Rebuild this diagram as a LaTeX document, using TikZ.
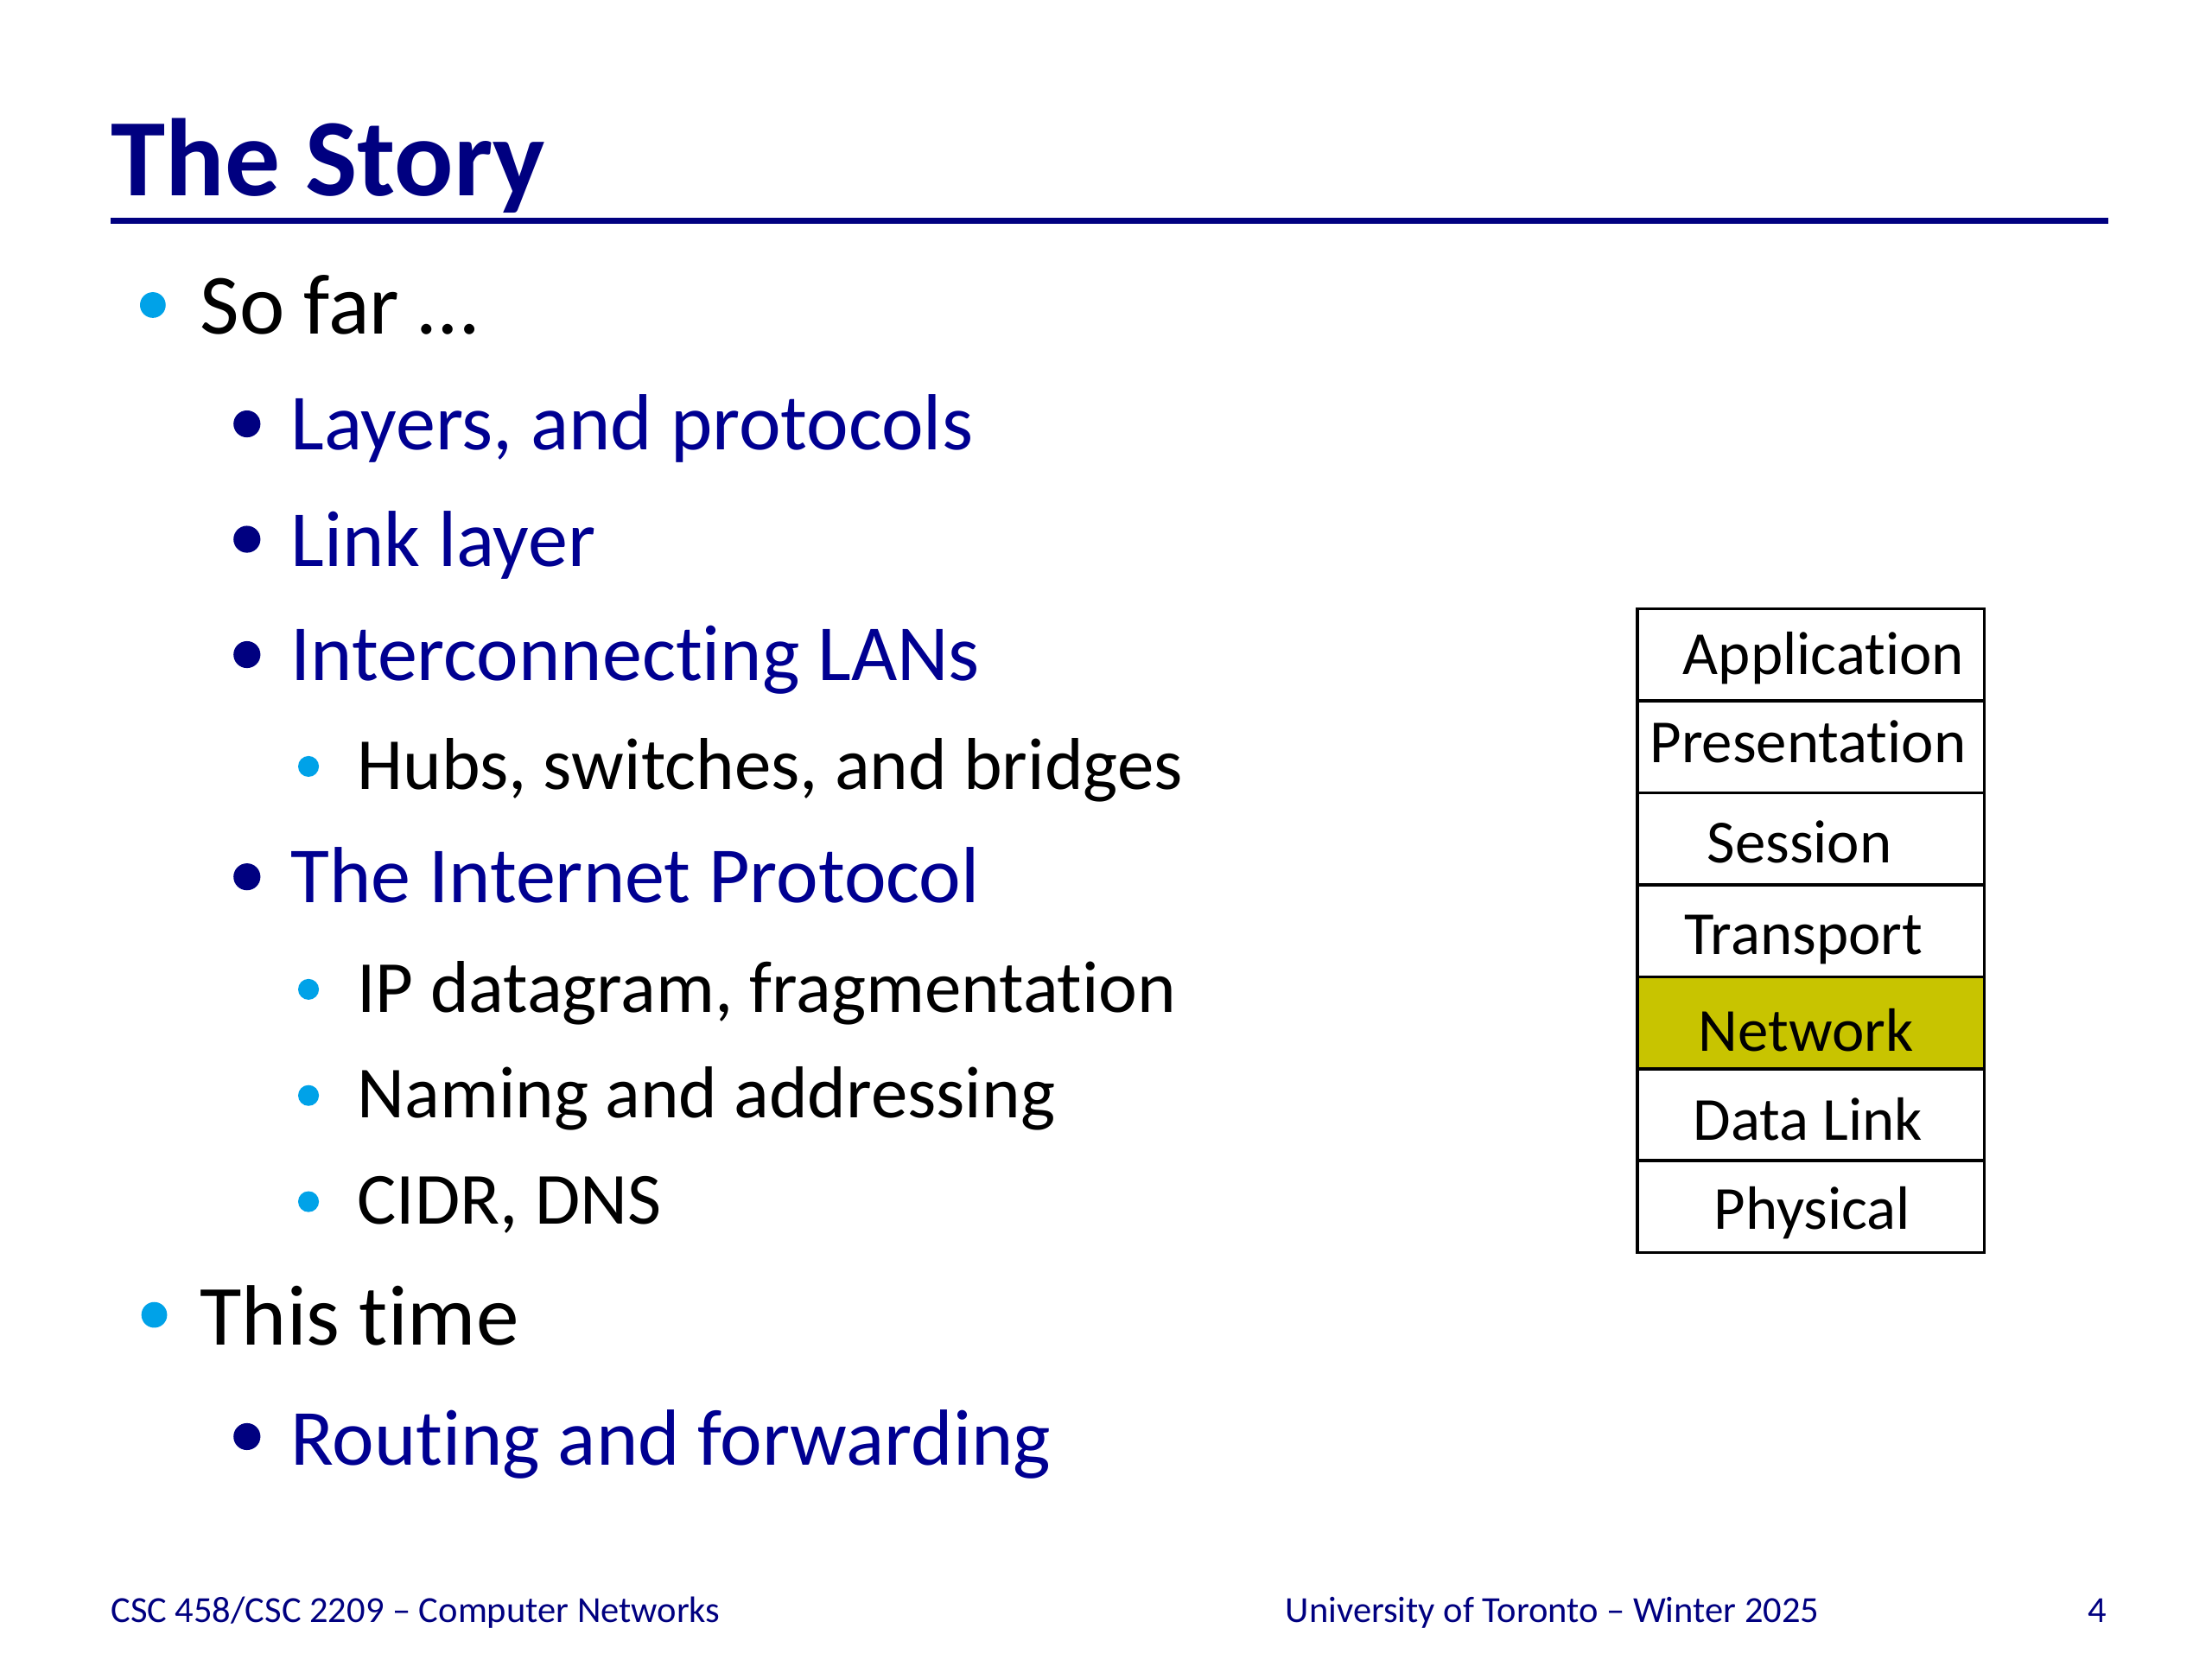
\documentclass[tikz,border=0pt]{standalone}
\usepackage{fontspec}
\setmainfont{Carlito}[Ligatures={NoCommon,NoRequired,NoContextual}]
\usetikzlibrary{shapes.geometric}
\newcommand\nolig{\kern0pt{}}
\definecolor{navy}{RGB}{0,0,128}
\definecolor{itemblue}{RGB}{0,0,145}
\definecolor{cyanb}{RGB}{0,162,232}
\definecolor{olive}{RGB}{200,196,0}
\begin{document}
\begin{tikzpicture}[x=0.46238pt,y=-0.46238pt,
  title/.style={anchor=base west,inner sep=0pt,font=\fontsize{36}{40}\selectfont\bfseries,text=navy},
  lvlone/.style={anchor=base west,inner sep=0pt,font=\fontsize{28}{32}\selectfont,text=black},
  lvltwo/.style={anchor=base west,inner sep=0pt,font=\fontsize{26}{30}\selectfont,text=itemblue},
  lvlthree/.style={anchor=base west,inner sep=0pt,font=\fontsize{24}{28}\selectfont,text=black},
  dotone/.style={fill=cyanb,draw=none,circle,minimum size=8.4pt,inner sep=0pt,outer sep=0pt},
  dottwo/.style={fill=navy,draw=none,circle,minimum size=8.8pt,inner sep=0pt,outer sep=0pt},
  dotthree/.style={fill=cyanb,draw=none,circle,minimum size=6.8pt,inner sep=0pt,outer sep=0pt},
  layer/.style={draw=black,line width=1pt,minimum width=113.3pt,minimum height=30.05pt,inner sep=0pt,anchor=north west},
  layertext/.style={anchor=base,inner sep=0pt,font=\fontsize{20}{24}\selectfont,text=black},
  foot/.style={anchor=base west,inner sep=0pt,font=\fontsize{12}{14}\selectfont,text=navy}]
\useasboundingbox (0,0) rectangle (1563,1172.25);
\fill[white] (0,0) rectangle (1563,1172.25);
% title
\node[title] (t) at (78,138) {The Story};
\coordinate (la) at (78,156);
\coordinate (lb) at (1490,156);
\draw[navy,line width=2pt] (la) -- (lb);
% bullets
\node[dotone] (b1) at (108,215.5) {};
\node[lvlone] (s1) at (141,236) {So far …};
\node[dottwo] (b2) at (174.5,299.5) {};
\node[lvltwo] (s2) at (205,318) {Layers, and protocols};
\node[dottwo] (b3) at (174.5,381) {};
\node[lvltwo] (s3) at (205,400) {Link layer};
\node[dottwo] (b4) at (174.5,462.5) {};
\node[lvltwo] (s4) at (205,481) {Interconnect\nolig ing LANs};
\node[dotthree] (b5) at (218,541.5) {};
\node[lvlthree] (s5) at (252,558) {Hubs, switches, and bridges};
\node[dottwo] (b6) at (174.5,619.5) {};
\node[lvltwo] (s6) at (205,638) {The Internet Protocol};
\node[dotthree] (b7) at (218,699) {};
\node[lvlthree] (s7) at (252,715) {IP datagram, fragmentat\nolig ion};
\node[dotthree] (b8) at (218,774) {};
\node[lvlthree] (s8) at (252,790) {Naming and addressing};
\node[dotthree] (b9) at (218,849) {};
\node[lvlthree] (s9) at (252,865) {CIDR, DNS};
\node[dotone] (b10) at (109,929) {};
\node[lvlone] (s10) at (141,950) {This t\nolig ime};
\node[dottwo] (b11) at (174.5,1015) {};
\node[lvltwo] (s11) at (205,1035) {Rout\nolig ing and forwarding};
% layer stack
\node[layer] (r1) at (1156,429) {};
\node[layer] (r2) at (1156,494) {};
\node[layer] (r3) at (1156,559) {};
\node[layer] (r4) at (1156,624) {};
\node[layer,fill=olive] (r5) at (1156,689) {};
\node[layer] (r6) at (1156,754) {};
\node[layer] (r7) at (1156,819) {};
\node[layertext] (x1) at (1288.5,476.5) {Applicat\nolig ion};
\node[layertext] (x2) at (1277.5,538.5) {Presentat\nolig ion};
\node[layertext] (x3) at (1271.5,609.5) {Session};
\node[layertext] (x4) at (1274.5,674.5) {Transport};
\node[layertext] (x5) at (1276,742.5) {Network};
\node[layertext] (x6) at (1277.5,805.5) {Data Link};
\node[layertext] (x7) at (1280.5,868.5) {Physical};
% footer
\node[foot] (f1) at (78,1146) {CSC 458/CSC 2209 – Computer Networks};
\node[foot] (f2) at (908,1146) {University of Toronto – Winter 2025};
\node[foot,anchor=base east] (f3) at (1489,1146) {4};
\end{tikzpicture}
\end{document}
